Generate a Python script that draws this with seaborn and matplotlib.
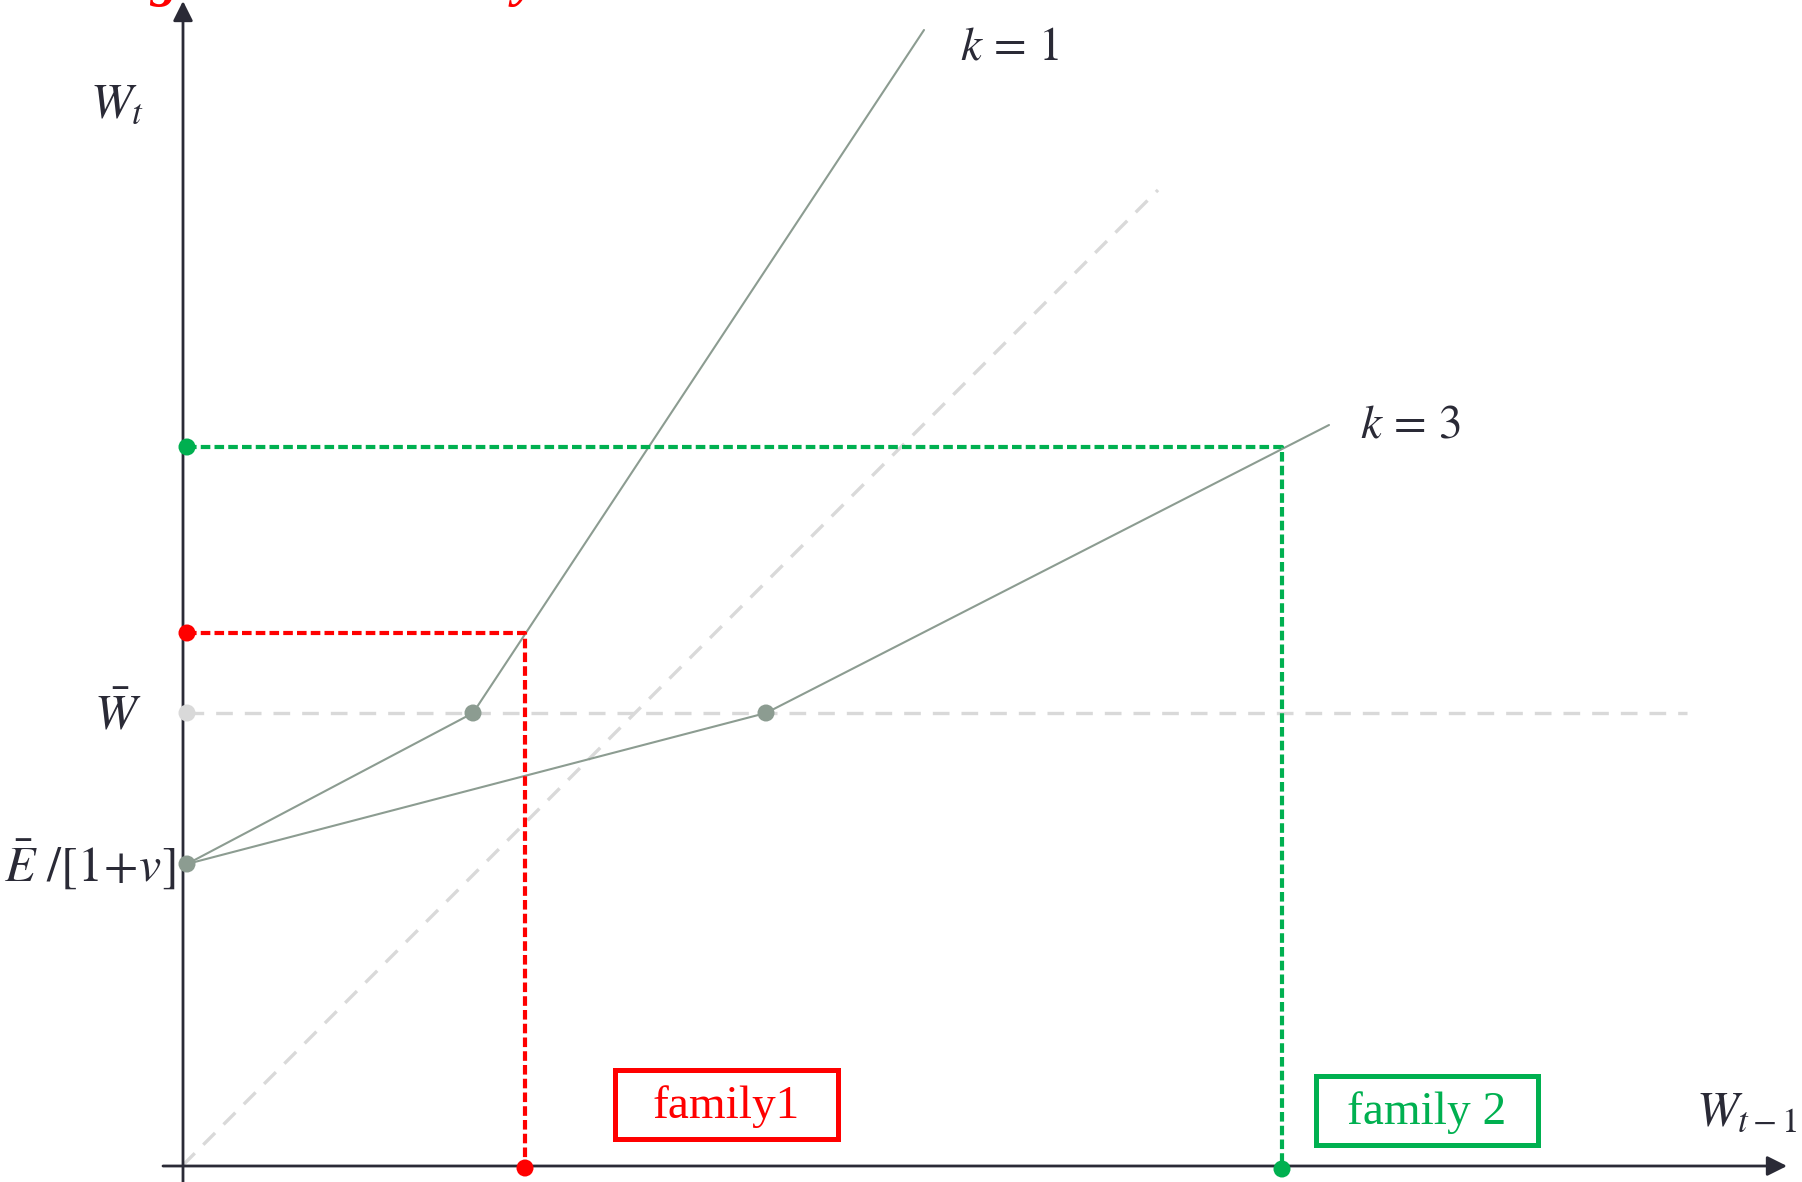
import matplotlib
matplotlib.use('Agg')
import matplotlib.pyplot as plt
import seaborn as sns
import pandas as pd
from matplotlib.patches import FancyBboxPatch

sns.set_theme(style="white")
plt.rcParams['font.family'] = ['Liberation Serif', 'DejaVu Serif']
plt.rcParams['mathtext.fontset'] = 'stix'

# values (units: origin at axis corner)
intercept = 3.01        # E / [1+v]
w_bar = 4.52            # threshold wealth
k1_x = [0.04, 2.90, 7.41]
k1_y = [intercept, w_bar, 11.35]
k3_x = [0.04, 5.83, 11.46]
k3_y = [intercept, w_bar, 7.40]
diag_end = 9.75
wbar_end = 15.04
fam1_x, fam1_y = 3.42, 5.32
fam2_x, fam2_y = 10.99, 7.18

grey_line = '#8c9c91'
light = '#d9d9d9'
red = '#ff0000'
green = '#00b050'
axis_col = '#2a2a36'

fig = plt.figure(figsize=(18.02, 11.82), dpi=100)
ax = fig.add_axes([0, 0, 1, 1])
ax.set_xlim(-1.83, 16.19)
ax.set_ylim(-0.17, 11.65)
ax.axis('off')


def path(xs, ys, **kw):
    # draw a polyline exactly through the given vertices
    d = pd.DataFrame({'x': xs, 'y': ys, 'u': 0})
    sns.lineplot(data=d, x='x', y='y', units='u', estimator=None, sort=False,
                 ax=ax, **kw)


# 45 degree line and W-bar level
path([0, diag_end], [0, diag_end], color=light, lw=2.4, linestyle=(0, (5.0, 3.6)))
path([0.04, wbar_end], [w_bar, w_bar], color=light, lw=2.4, linestyle=(0, (5.0, 3.6)))

# k = 1 and k = 3 transition curves
path(k1_x, k1_y, color=grey_line, lw=1.5)
path(k3_x, k3_y, color=grey_line, lw=1.5)

# family projections
path([0.04, fam1_x, fam1_x], [fam1_y, fam1_y, 0], color=red, lw=3,
     linestyle=(0, (2.3, 1.0)))
path([0.04, fam2_x, fam2_x], [fam2_y, fam2_y, 0], color=green, lw=3,
     linestyle=(0, (2.3, 1.0)))

# dots
sns.scatterplot(x=[0.04], y=[w_bar], ax=ax, color=light, s=150, edgecolor='none', zorder=5)
sns.scatterplot(x=[0.04, k1_x[1], k3_x[1]], y=[intercept, w_bar, w_bar], ax=ax,
                color=grey_line, s=150, edgecolor='none', zorder=5)
sns.scatterplot(x=[0.04, fam1_x], y=[fam1_y, -0.03], ax=ax, color=red, s=150,
                edgecolor='none', zorder=5)
sns.scatterplot(x=[0.04, fam2_x], y=[fam2_y, -0.04], ax=ax, color=green, s=150,
                edgecolor='none', zorder=5)

# axes with arrows
ax.annotate('', xy=(16.04, -0.01), xytext=(-0.20, -0.01),
            arrowprops=dict(arrowstyle='-|>', color=axis_col, lw=2,
                            mutation_scale=30, shrinkA=0, shrinkB=0))
ax.annotate('', xy=(0, 11.64), xytext=(0, -0.17),
            arrowprops=dict(arrowstyle='-|>', color=axis_col, lw=2,
                            mutation_scale=30, shrinkA=0, shrinkB=0))

# labels
tc = '#2a2a36'
ax.text(-0.66, 10.60, r'$W_t$', fontsize=36, color=tc, ha='center', va='center')
ax.text(-0.65, 4.48, r'$\bar{W}$', fontsize=36, color=tc, ha='center', va='center')
ax.text(-0.93, 3.00, r'$\bar{E}\ /[1\!+\!v]$', fontsize=36, color=tc,
        ha='center', va='center')
ax.text(8.26, 11.17, r'$k\,=\,1$', fontsize=34, color=tc, ha='center', va='center')
ax.text(12.27, 7.39, r'$k\,=\,3$', fontsize=34, color=tc, ha='center', va='center')
ax.text(16.14, 0.52, r'$W_{t-1}$', fontsize=36, color=tc, ha='right', va='center')

# family boxes
for x0, y0, w, h, col, lab in [(4.32, 0.26, 2.23, 0.69, red, 'family1'),
                               (11.33, 0.20, 2.22, 0.69, green, 'family 2')]:
    ax.add_patch(FancyBboxPatch((x0, y0), w, h, boxstyle='square,pad=0',
                                fill=False, ec=col, lw=3.6, zorder=6))
    ax.text(x0 + w / 2, y0 + h / 2 - 0.02, lab, fontsize=34, color=col,
            ha='center', va='center')

# cut-off red heading at the top edge
fig.text(0.091, 1.004, 'g', fontsize=40, color=red, fontweight='bold',
         fontstyle='italic', ha='center', va='baseline')
fig.text(0.292, 1.004, 'y', fontsize=40, color=red, fontweight='bold',
         fontstyle='italic', ha='center', va='baseline')

plt.savefig('out.png', dpi=100, facecolor='white')
plt.close()
